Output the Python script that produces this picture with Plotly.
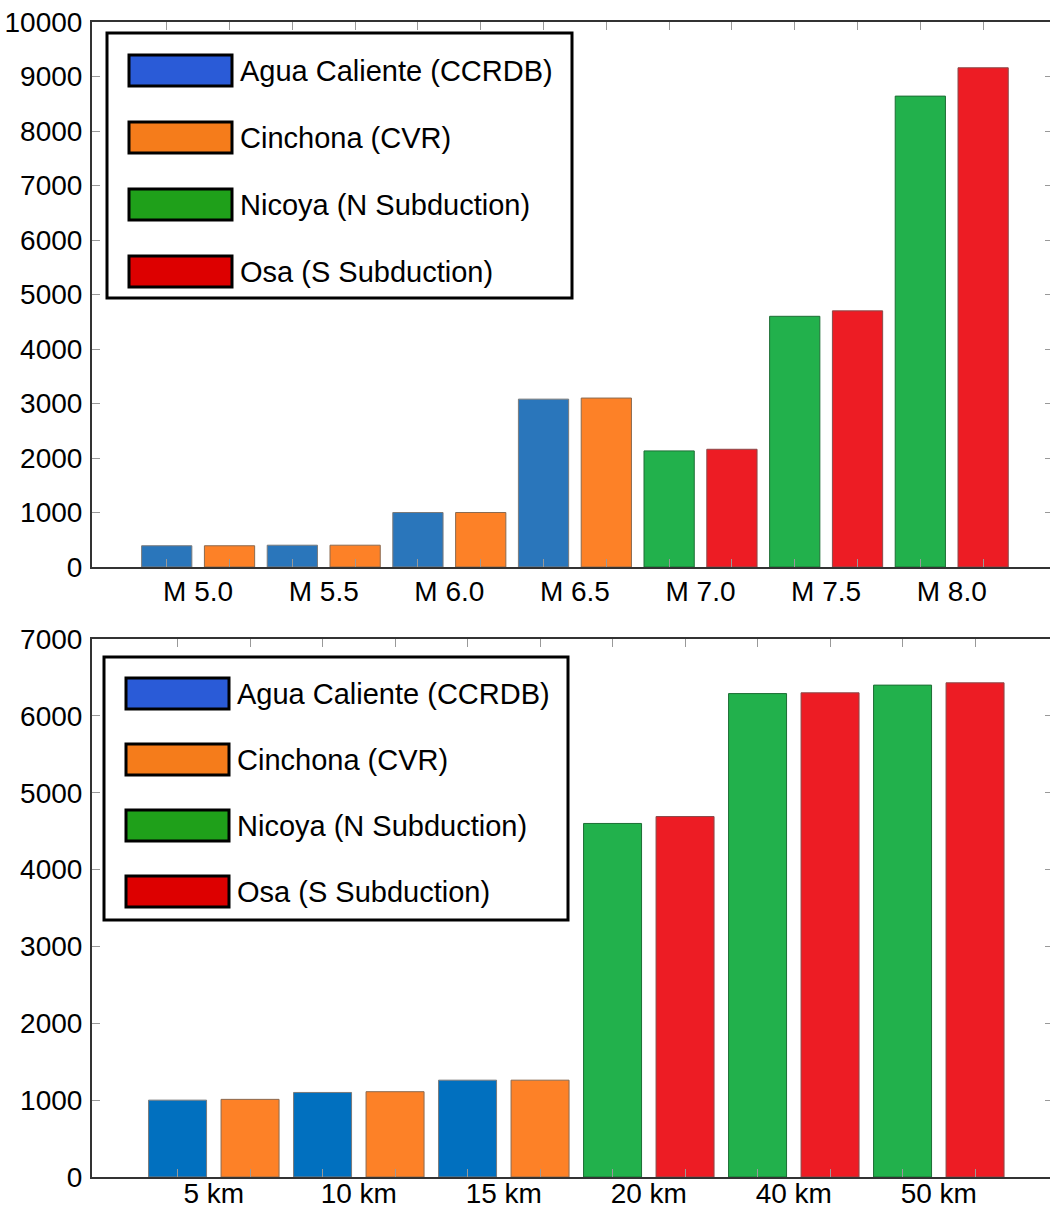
import plotly.graph_objects as go

# ---------------- data ----------------
mag_categories = ["M 5.0", "M 5.5", "M 6.0", "M 6.5", "M 7.0", "M 7.5", "M 8.0"]
mag_agua = [390, 400, 1000, 3080, None, None, None]
mag_cinchona = [390, 400, 1000, 3100, None, None, None]
mag_nicoya = [None, None, None, None, 2130, 4600, 8640]
mag_osa = [None, None, None, None, 2160, 4700, 9160]

dist_categories = ["5 km", "10 km", "15 km", "20 km", "40 km", "50 km"]
dist_agua = [1000, 1100, 1260, None, None, None]
dist_cinchona = [1010, 1110, 1260, None, None, None]
dist_nicoya = [None, None, None, 4600, 6290, 6400]
dist_osa = [None, None, None, 4690, 6300, 6430]

series_names = ["Agua Caliente (CCRDB)", "Cinchona (CVR)",
                "Nicoya (N Subduction)", "Osa (S Subduction)"]
top_yticks = list(range(0, 10001, 1000))
bottom_yticks = list(range(0, 7001, 1000))

# ---------------- styles ----------------
bar_colors_top = ["#2a76bb", "#fd8127", "#22b14c", "#ed1c24"]
bar_colors_bottom = ["#0170bf", "#fd8127", "#22b14c", "#ed1c24"]
outline_colors = ["#7a7a7a", "#8a6a50", "#1d6e35", "#8a4a4a"]
legend_colors = ["#2a5bd7", "#f57c1b", "#1fa01a", "#dd0000"]
FONT = "Liberation Sans, Arial, Helvetica, sans-serif"
TICK_SIZE = 28

fig = go.Figure()


def add_panel(values_list, colors, xa, ya):
    # slot 0 = first bar of a pair, slot 1 = second bar of a pair
    slots = [0, 1, 0, 1]
    for k, vals in enumerate(values_list):
        xs, ys = [], []
        for i, v in enumerate(vals):
            if v is not None:
                xs.append(2 * i + slots[k])
                ys.append(v)
        fig.add_trace(go.Bar(
            x=xs, y=ys, width=0.8, name=series_names[k], showlegend=False,
            marker=dict(color=colors[k], line=dict(color=outline_colors[k], width=1)),
            xaxis=xa, yaxis=ya,
        ))


add_panel([mag_agua, mag_cinchona, mag_nicoya, mag_osa], bar_colors_top, "x", "y")
add_panel([dist_agua, dist_cinchona, dist_nicoya, dist_osa], bar_colors_bottom, "x2", "y2")

# the page body margin is removed by a small post script, so page px == figure px.
# The figure is a few px wider than the window so the right frame line falls
# just outside the visible area (as in the cropped original).
PAGE_H = 1209
W, H = 1053, PAGE_H
ML, MT = 92, 22
MB = PAGE_H - 1177
plot_h = H - MT - MB
plot_w = W - ML


def py(page_pix):  # page pixel y -> paper y
    return (PAGE_H - MB - page_pix) / plot_h


def px_x(page_pix):  # page pixel x -> paper x
    return (page_pix - ML) / plot_w


top_dom = [py(567), 1.0]
bot_dom = [0.0, py(639)]

n_top = 2 * len(mag_categories)
n_bot = 2 * len(dist_categories)
top_xrange = [-1.19, -1.19 + plot_w / 62.8]
bot_xrange = [-1.18, -1.18 + plot_w / 72.5]

axis_common = dict(
    showline=True, linecolor="#333333", linewidth=2, mirror="ticks",
    ticks="inside", tickcolor="#999999", ticklen=8, tickwidth=1,
    showgrid=False, zeroline=False, color="black", automargin=False,
    ticklabeloverflow="allow",
    tickfont=dict(family=FONT, size=TICK_SIZE, color="black"),
)

label_axis = dict(showline=False, showgrid=False, zeroline=False, ticks="",
                  side="bottom", automargin=False, ticklabeloverflow="allow",
                  tickfont=dict(family=FONT, size=TICK_SIZE, color="black"))

fig.update_layout(
    width=W, height=H,
    margin=dict(l=ML, r=0, t=MT, b=MB),
    plot_bgcolor="white", paper_bgcolor="white",
    barmode="overlay",
    font=dict(family=FONT, size=TICK_SIZE, color="black"),
    xaxis=dict(axis_common, domain=[0, 1], anchor="y", range=top_xrange,
               tickvals=list(range(n_top)), showticklabels=False),
    yaxis=dict(axis_common, domain=top_dom, anchor="x", range=[0, 10000],
               tickvals=top_yticks, ticktext=[str(v) for v in top_yticks],
               ticklabelstandoff=2),
    xaxis2=dict(axis_common, domain=[0, 1], anchor="y2", range=bot_xrange,
                tickvals=list(range(n_bot)), showticklabels=False),
    yaxis2=dict(axis_common, domain=bot_dom, anchor="x2", range=[0, 7000],
                tickvals=bottom_yticks, ticktext=[str(v) for v in bottom_yticks],
                ticklabelstandoff=2),
    # label axes (category names centred under each bar pair)
    xaxis3=dict(label_axis, overlaying="x", anchor="y", range=top_xrange,
                tickvals=[2 * i + 0.5 for i in range(len(mag_categories))],
                ticktext=mag_categories, ticklabelstandoff=5),
    xaxis4=dict(label_axis, overlaying="x2", anchor="y2", range=bot_xrange,
                tickvals=[2 * i + 0.5 for i in range(len(dist_categories))],
                ticktext=dist_categories, ticklabelstandoff=-3),
)

# invisible traces to activate label axes
fig.add_trace(go.Scatter(x=[0], y=[0], xaxis="x3", yaxis="y", mode="markers",
                         marker=dict(opacity=0), showlegend=False, hoverinfo="skip"))
fig.add_trace(go.Scatter(x=[0], y=[0], xaxis="x4", yaxis="y2", mode="markers",
                         marker=dict(opacity=0), showlegend=False, hoverinfo="skip"))


# ---------------- custom legends (large swatches) ----------------
def add_legend(box, swatch_x, first_sw_top, step, text_x):
    x0, y0, x1, y1 = box
    fig.add_shape(type="rect", xref="paper", yref="paper",
                  x0=px_x(x0), x1=px_x(x1), y0=py(y1), y1=py(y0),
                  line=dict(color="black", width=3), fillcolor="white", layer="above")
    for k in range(4):
        t = first_sw_top + k * step
        fig.add_shape(type="rect", xref="paper", yref="paper",
                      x0=px_x(swatch_x[0]), x1=px_x(swatch_x[1]),
                      y0=py(t + 31), y1=py(t),
                      line=dict(color="black", width=3), fillcolor=legend_colors[k],
                      layer="above")
        fig.add_annotation(xref="paper", yref="paper", x=px_x(text_x), y=py(t + 16),
                           text=series_names[k], showarrow=False, xanchor="left",
                           yanchor="middle",
                           font=dict(family=FONT, size=29, color="black"))


add_legend((107, 33, 572, 298), (129, 232), 55, 67, 238)
add_legend((104, 657, 568, 920), (126, 229), 678, 66, 235)

fig.write_html(
    "out.html",
    config={"displayModeBar": False},
    post_script="document.body.style.margin='0';document.body.style.overflow='hidden';",
)
